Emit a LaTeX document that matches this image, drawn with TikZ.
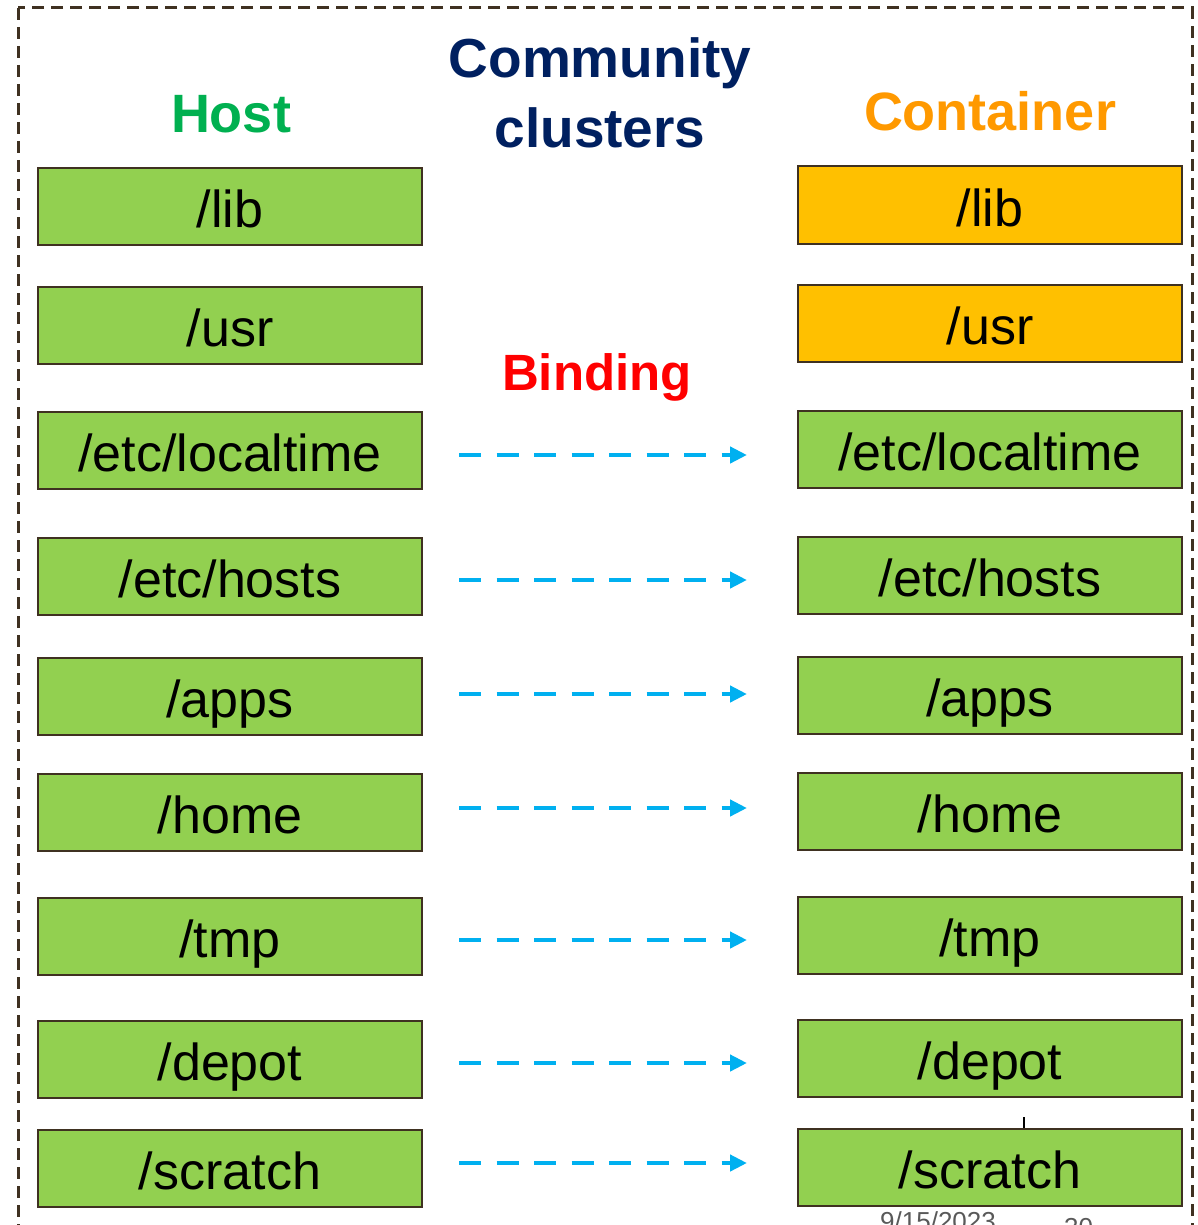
\documentclass[tikz,border=0pt]{standalone}
\usepackage{fontspec}
\setmainfont{Liberation Sans}
\usetikzlibrary{arrows.meta}
\definecolor{boxgreen}{HTML}{92D050}
\definecolor{boxorange}{HTML}{FFC000}
\definecolor{edgebrown}{HTML}{3F3121}
\definecolor{hostgreen}{HTML}{00B050}
\definecolor{contorange}{HTML}{FF9900}
\definecolor{navy}{HTML}{002060}
\definecolor{bindcyan}{HTML}{00B0F0}
\definecolor{footgray}{HTML}{595959}
\tikzset{
  dirbox/.style={draw=edgebrown, line width=2pt, fill=boxgreen, minimum width=384pt, minimum height=77pt, inner sep=0pt,
    font=\fontsize{52}{60}\selectfont, text height=46pt, text depth=4pt},
  obox/.style={dirbox, fill=boxorange},
  title/.style={font=\fontsize{54}{64}\selectfont\bfseries, inner sep=0pt, align=center},
  bindarrow/.style={draw=bindcyan, line width=4.5pt, dash pattern=on 22pt off 15.5pt, -{Triangle[length=17pt,width=16pt]}, shorten >=0pt},
  frame/.style={draw=edgebrown, line width=3pt, dash pattern=on 12pt off 7pt}
}
\begin{document}
\begin{tikzpicture}[x=1pt,y=-1pt]
\useasboundingbox (0,0) rectangle (1198,1225);
\clip (0,0) rectangle (1198,1225);
\draw[frame] (18,8) rectangle (1192,1260);

\node[title, text=hostgreen] (host) at (231,114) {Host};
\node[title, text=navy, font=\fontsize{55}{70}\selectfont\bfseries] (comm) at (600,93) {Community\\clusters};
\node[title, text=contorange] (cont) at (990,111) {Container};
\node[title, text=red, font=\fontsize{51}{60}\selectfont\bfseries] (bind) at (597,377) {Binding};

\node[dirbox] (hlib) at (230,206.5) {/lib};
\node[dirbox] (husr) at (230,325.5) {/usr};
\node[dirbox] (hloc) at (230,450.5) {/etc/localtime};
\node[dirbox] (hhos) at (230,576.5) {/etc/hosts};
\node[dirbox] (happ) at (230,696.5) {/apps};
\node[dirbox] (hhom) at (230,812.5) {/home};
\node[dirbox] (htmp) at (230,936.5) {/tmp};
\node[dirbox] (hdep) at (230,1059.5) {/depot};
\node[dirbox] (hscr) at (230,1168) {/scratch};

\node[obox] (clib) at (990,205) {/lib};
\node[obox] (cusr) at (990,323.5) {/usr};
\node[dirbox] (cloc) at (990,449.5) {/etc/localtime};
\node[dirbox] (chos) at (990,575) {/etc/hosts};
\node[dirbox] (capp) at (990,695) {/apps};
\node[dirbox] (chom) at (990,811) {/home};
\node[dirbox] (ctmp) at (990,935) {/tmp};
\node[dirbox] (cdep) at (990,1058) {/depot};
\node[dirbox] (cscr) at (990,1167) {/scratch};

\foreach \a/\b/\y in {hloc/cloc/455, hhos/chos/580, happ/capp/694, hhom/chom/808, htmp/ctmp/940, hdep/cdep/1063, hscr/cscr/1163}{
  \coordinate (s\a) at ([xshift=36pt]\a.east |- 0,\y);
  \coordinate (e\a) at ([xshift=-50pt]\b.west |- 0,\y);
  \draw[bindarrow] (s\a) -- (e\a);
}

\coordinate (tickt) at (1024,1117);
\draw[black, line width=1.2pt] (tickt) -- (cscr.north -| tickt);

\node[anchor=north west, inner sep=0pt, text=footgray, font=\fontsize{26}{30}\selectfont] (date) at (880,1211) {9/15/2023};
\node[anchor=north west, inner sep=0pt, text=footgray, font=\fontsize{26}{30}\selectfont] (pg) at (1064,1218) {30};
\end{tikzpicture}
\end{document}
